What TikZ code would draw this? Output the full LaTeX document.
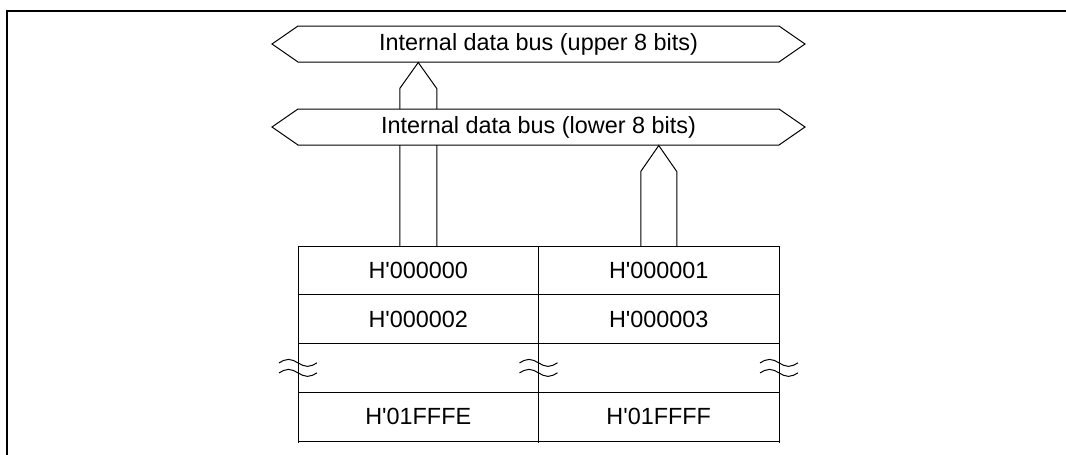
\documentclass[tikz,border=0pt]{standalone}
\usepackage{fontspec}
\setmainfont{Liberation Sans}
\usetikzlibrary{calc,positioning,shapes.symbols}

\begin{document}
\begin{tikzpicture}[
    x=1pt, y=-1pt,
    node distance=0pt,
    line width=1pt,
    font=\fontsize{23.4}{28}\selectfont,
    bus/.style={draw,fill=white,shape=signal,signal to=west and east,
      signal pointer angle=69.4,minimum width=533pt,minimum height=36pt,inner sep=0pt},
    cell/.style={draw,minimum width=240.5pt,minimum height=48.75pt,inner sep=0pt,outer sep=0pt},
    frameline/.style={line width=2.4pt}]
  \useasboundingbox (0,0) rectangle (1066,455);
  \draw[frameline] (7,455) -- (7,11) -- (1066,11);

  \node[bus] (upper) at (538.5,44) {Internal data bus (upper 8 bits)};

  \node[cell] (c00) at (418.25,270.375) {H\textquotesingle000000};
  \node[cell,right=of c00] (c01) {H\textquotesingle000001};
  \node[cell,below=of c00] (c10) {H\textquotesingle000002};
  \node[cell,right=of c10] (c11) {H\textquotesingle000003};
  \node[cell,below=of c10] (c20) {};
  \node[cell,right=of c20] (c21) {};
  \node[cell,below=of c20] (c30) {H\textquotesingle01FFFE};
  \node[cell,right=of c30] (c31) {H\textquotesingle01FFFF};
  \foreach \a in {c30.south west,c30.south east,c31.south east}
    \draw (\a) -- ++(0,2);

  % upper byte path, runs behind the lower bus
  \path (c00 |- upper.south) coordinate (ltip);
  \draw ($(c00.north)+(-18.5,0)$) -- ($(ltip)+(-18.5,26)$) -- (ltip)
    -- ($(ltip)+(18.5,26)$) -- ($(c00.north)+(18.5,0)$);

  \node[bus] (lower) at (538.5,127) {Internal data bus (lower 8 bits)};

  \path (c01 |- lower.south) coordinate (rtip);
  \draw ($(c01.north)+(-18,0)$) -- ($(rtip)+(-18,26)$) -- (rtip)
    -- ($(rtip)+(18,26)$) -- ($(c01.north)+(18,0)$);

  % break marks
  \foreach \n in {c20.west,c20.east,c21.east}
    \foreach \dy in {-5,5}
      \draw ($(\n)+(-19,\dy)$) sin ++(9.5,-3.5) cos ++(9.5,3.5) sin ++(9.5,3.5) cos ++(9.5,-3.5);
\end{tikzpicture}
\end{document}
